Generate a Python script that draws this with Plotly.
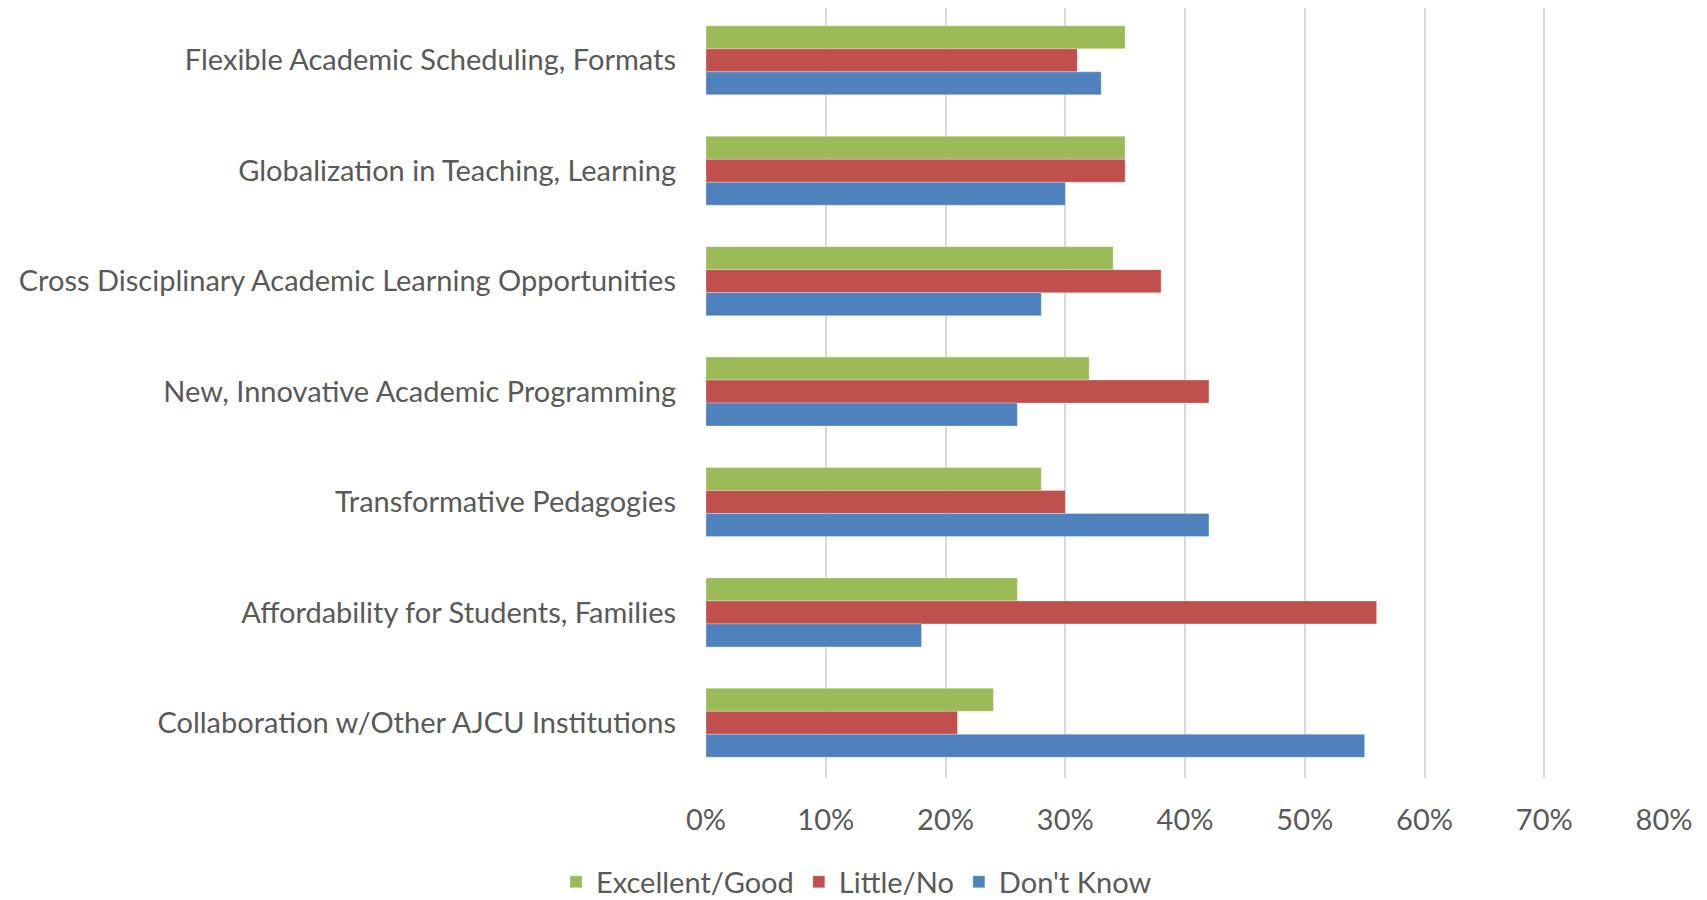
import plotly.graph_objects as go

categories = [
    "Flexible Academic Scheduling, Formats",
    "Globalization in Teaching, Learning",
    "Cross Disciplinary Academic Learning Opportunities",
    "New, Innovative Academic Programming",
    "Transformative Pedagogies",
    "Affordability for Students, Families",
    "Collaboration w/Other AJCU Institutions",
]
excellent_good = [0.35, 0.35, 0.34, 0.32, 0.28, 0.26, 0.24]
little_no = [0.31, 0.35, 0.38, 0.42, 0.30, 0.56, 0.21]
dont_know = [0.33, 0.30, 0.28, 0.26, 0.42, 0.18, 0.55]
x_ticks = [0, 0.1, 0.2, 0.3, 0.4, 0.5, 0.6, 0.7, 0.8]
x_tick_labels = ["0%", "10%", "20%", "30%", "40%", "50%", "60%", "70%", "80%"]

series = [
    ("Excellent/Good", excellent_good, "#9BBB59"),
    ("Little/No", little_no, "#C0504D"),
    ("Don't Know", dont_know, "#4F81BD"),
]

FONT = "Lato"
TXT = "#595959"
FS = 29

W, H = 1699, 892  # page body adds an 8px margin

fig = go.Figure()
for name, vals, color in series:
    fig.add_trace(go.Bar(
        y=categories, x=vals, name=name, orientation="h",
        marker=dict(color=color, line=dict(color="rgba(255,255,255,0.6)", width=0.5)),
    ))

fig.update_layout(
    width=W, height=H,
    barmode="group", bargap=0.375, bargroupgap=0,
    plot_bgcolor="white", paper_bgcolor="white",
    margin=dict(l=698, r=43, t=0, b=122, autoexpand=False),
    font=dict(family=FONT, size=FS, color=TXT),
    xaxis=dict(
        range=[0, 0.8], tickvals=x_ticks, ticktext=x_tick_labels,
        showgrid=True, gridcolor="#D9D9D9", gridwidth=1.5,
        zeroline=False, showline=False, ticks="",
        tickfont=dict(family=FONT, size=FS, color=TXT),
        ticklabelstandoff=22,
    ),
    yaxis=dict(
        range=[len(categories) - 0.5, -0.474],
        showgrid=False, zeroline=False, showline=False,
        ticks="", tickfont=dict(family=FONT, size=FS, color=TXT),
        ticklabelstandoff=29,
    ),
    legend=dict(
        orientation="h", xref="container", yref="container",
        x=848.5 / W, xanchor="center", y=1 - 874 / H, yanchor="middle",
        font=dict(family=FONT, size=FS, color=TXT),
        itemwidth=30,
    ),
)

fig.write_html("out.html")
